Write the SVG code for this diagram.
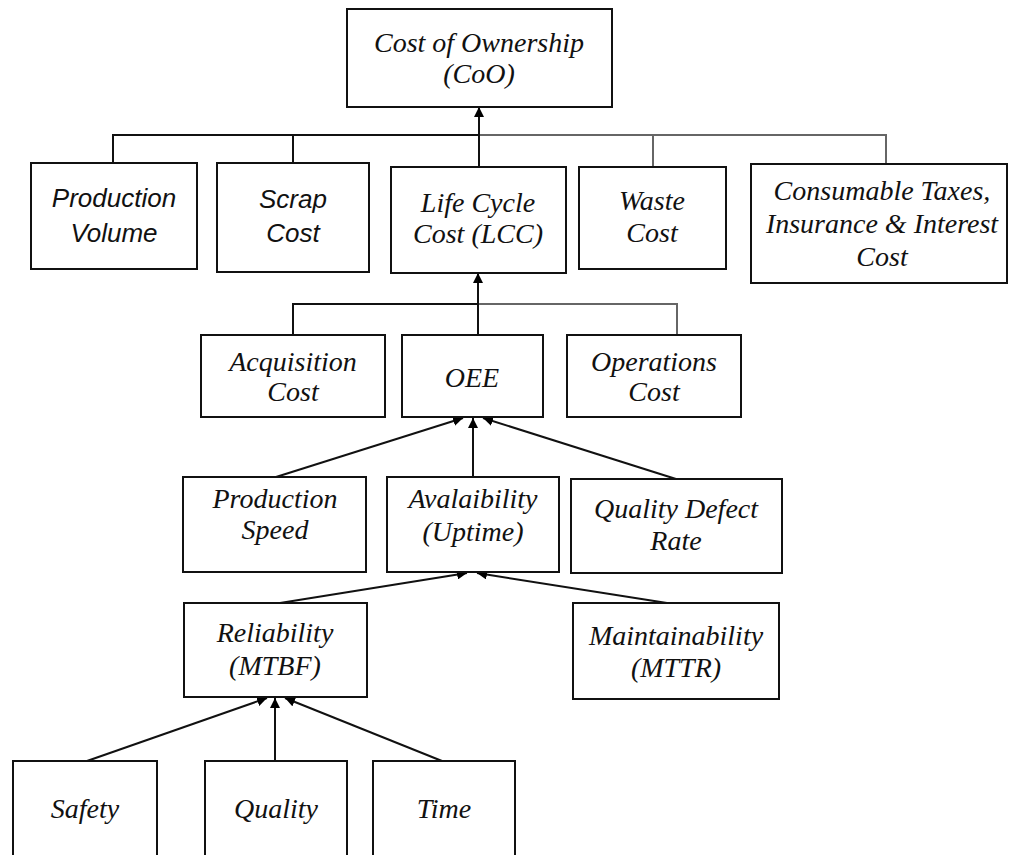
<svg xmlns="http://www.w3.org/2000/svg" width="1010" height="855" viewBox="0 0 1010 855">
<style>
.box{fill:#fff;stroke:#111;stroke-width:2}
.t{font-family:"Liberation Serif","Times New Roman",serif;font-style:italic;font-size:28px;text-anchor:middle;fill:#111}
.s{font-family:"Liberation Sans",Arial,sans-serif;font-style:italic;font-size:26px;text-anchor:middle;fill:#111}
.c{fill:none;stroke:#111;stroke-width:2}
.g{fill:none;stroke:#666;stroke-width:2}
.a{fill:none;stroke:#111;stroke-width:2;marker-end:url(#arr)}
</style>
<defs>
<marker id="arr" markerUnits="userSpaceOnUse" markerWidth="10" markerHeight="10" refX="10" refY="5" orient="auto">
<path d="M0,0 L10,5 L0,10 z" fill="#000"/>
</marker>
</defs>
<rect width="1010" height="855" fill="#fff"/>
<g id="connectors">
<path class="c" d="M113,163 V135 H479"/>
<path class="g" d="M479,135 H886 V164"/>
<path class="c" d="M293,136 V162"/>
<path class="g" d="M653,136 V167"/>
<path class="a" d="M479,167 V107"/>
<path class="c" d="M293,335 V304 H478"/>
<path class="g" d="M478,304 H677 V335"/>
<path class="a" d="M478,335 V273"/>
<path class="a" d="M276,477 L463,418"/>
<path class="a" d="M473,477 V418"/>
<path class="a" d="M676,479 L483,418"/>
<path class="a" d="M280,603 L467,573"/>
<path class="a" d="M667,603 L477,573"/>
<path class="a" d="M87,761 L267,698"/>
<path class="a" d="M275,761 V698"/>
<path class="a" d="M442,761 L285,698"/>
</g>
<g id="coo"><rect class="box" x="347" y="9" width="265" height="98"/><text class="t" x="479" y="52">Cost of Ownership</text><text class="t" x="479" y="83">(CoO)</text></g>
<g id="production-volume"><rect class="box" x="31" y="163" width="166" height="106"/><text class="s" x="114" y="207">Production</text><text class="s" x="114" y="242">Volume</text></g>
<g id="scrap-cost"><rect class="box" x="217" y="163" width="152" height="109"/><text class="s" x="293" y="208">Scrap</text><text class="s" x="293" y="242">Cost</text></g>
<g id="lcc"><rect class="box" x="391" y="167" width="175" height="106"/><text class="t" x="478" y="212">Life Cycle</text><text class="t" x="478" y="243">Cost (LCC)</text></g>
<g id="waste-cost"><rect class="box" x="579" y="167" width="147" height="102"/><text class="t" x="652" y="210">Waste</text><text class="t" x="652" y="242">Cost</text></g>
<g id="consumable"><rect class="box" x="751" y="164" width="256" height="119"/><text class="t" x="882" y="200">Consumable Taxes,</text><text class="t" x="882" y="233">Insurance &amp; Interest</text><text class="t" x="882" y="266">Cost</text></g>
<g id="acquisition-cost"><rect class="box" x="201" y="335" width="184" height="82"/><text class="t" x="293" y="371">Acquisition</text><text class="t" x="293" y="401">Cost</text></g>
<g id="oee"><rect class="box" x="402" y="335" width="141" height="82"/><text class="t" x="472" y="387">OEE</text></g>
<g id="operations-cost"><rect class="box" x="567" y="335" width="174" height="82"/><text class="t" x="654" y="371">Operations</text><text class="t" x="654" y="401">Cost</text></g>
<g id="production-speed"><rect class="box" x="183" y="477" width="183" height="95"/><text class="t" x="275" y="508">Production</text><text class="t" x="275" y="539">Speed</text></g>
<g id="availability"><rect class="box" x="387" y="477" width="172" height="95"/><text class="t" x="473" y="508">Avalaibility</text><text class="t" x="473" y="541">(Uptime)</text></g>
<g id="quality-defect-rate"><rect class="box" x="571" y="479" width="211" height="94"/><text class="t" x="676" y="518">Quality Defect</text><text class="t" x="676" y="550">Rate</text></g>
<g id="reliability"><rect class="box" x="184" y="603" width="183" height="94"/><text class="t" x="275" y="642">Reliability</text><text class="t" x="275" y="675">(MTBF)</text></g>
<g id="maintainability"><rect class="box" x="573" y="603" width="206" height="96"/><text class="t" x="676" y="645">Maintainability</text><text class="t" x="676" y="677">(MTTR)</text></g>
<g id="safety"><rect class="box" x="13" y="761" width="144" height="110"/><text class="t" x="85" y="818">Safety</text></g>
<g id="quality"><rect class="box" x="205" y="761" width="142" height="110"/><text class="t" x="276" y="818">Quality</text></g>
<g id="time"><rect class="box" x="373" y="761" width="142" height="110"/><text class="t" x="444" y="818">Time</text></g>
</svg>
